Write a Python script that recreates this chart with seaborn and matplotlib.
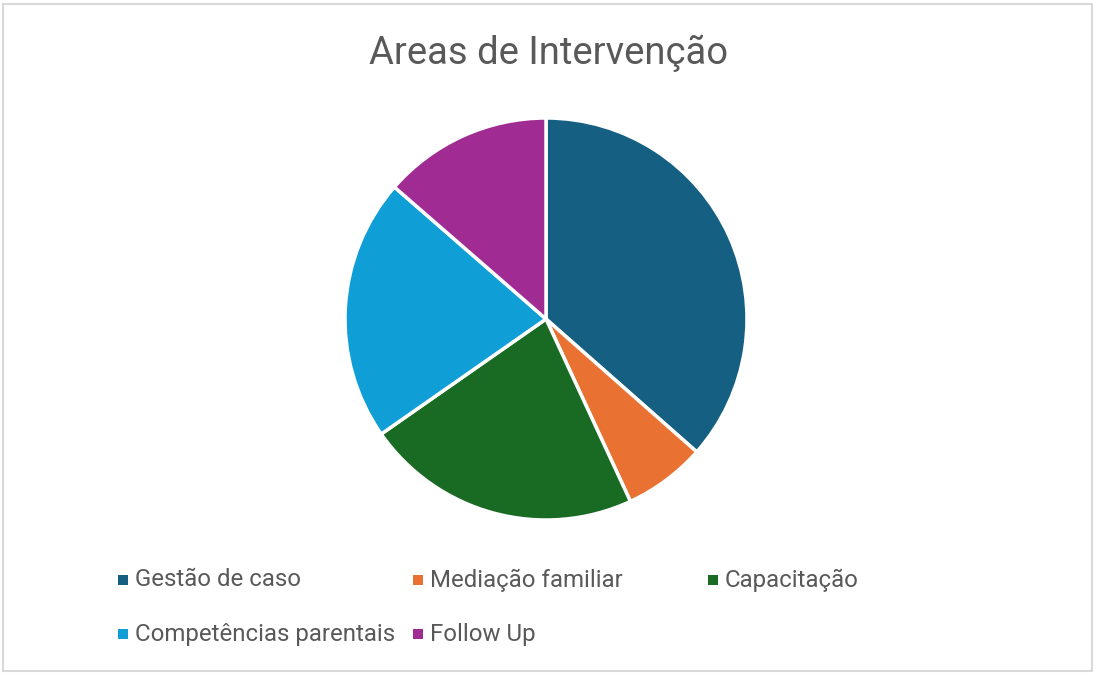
import matplotlib
matplotlib.use("Agg")
import matplotlib.pyplot as plt
import matplotlib.patches as mpatches
import seaborn as sns

categories = ["Gestão de caso", "Mediação familiar", "Capacitação",
              "Competências parentais", "Follow Up"]
values = [36.5, 6.6, 22.2, 21.1, 13.6]
colors = ["#156082", "#E97132", "#196B24", "#0F9ED5", "#A02B93"]

sns.set_theme(style="white")
plt.rcParams['font.family'] = ['Roboto', 'DejaVu Sans']

W, H = 1096, 675
fig = plt.figure(figsize=(W / 100, H / 100), dpi=100)
fig.patch.set_facecolor("white")

# chart border
fig.add_artist(mpatches.Rectangle((3 / W, 4 / H), 1089 / W, 667 / H,
                                  transform=fig.transFigure, fill=False,
                                  edgecolor="#D9D9D9", linewidth=1.5))

# pie, centre (546, 319) px, radius 201 px
ax = fig.add_axes([345 / W, (H - 520) / H, 402 / W, 402 / H])
ax.pie(values, colors=sns.color_palette(colors), startangle=90, counterclock=False,
       radius=1, wedgeprops=dict(edgecolor="white", linewidth=2.5))
ax.set_xlim(-1, 1)
ax.set_ylim(-1, 1)
ax.set_aspect("equal")
ax.axis("off")

fig.text(549 / W, 1 - 53 / H, "Areas de Intervenção", ha="center", va="center",
         fontsize=27.5, color="#595959")

# legend laid out like the Excel one: 3 columns of fixed width
for i, (lab, c) in enumerate(zip(categories, colors)):
    col, row = i % 3, i // 3
    x0 = 118 + col * 295
    yc = 580 + row * 54
    fig.add_artist(mpatches.Rectangle((x0 / W, 1 - (yc + 5) / H), 10 / W, 10 / H,
                                      transform=fig.transFigure, facecolor=c,
                                      edgecolor="none"))
    fig.text((x0 + 17) / W, 1 - yc / H, lab, ha="left", va="center",
             fontsize=17.3, color="#595959")

fig.savefig("out.png", dpi=100)
